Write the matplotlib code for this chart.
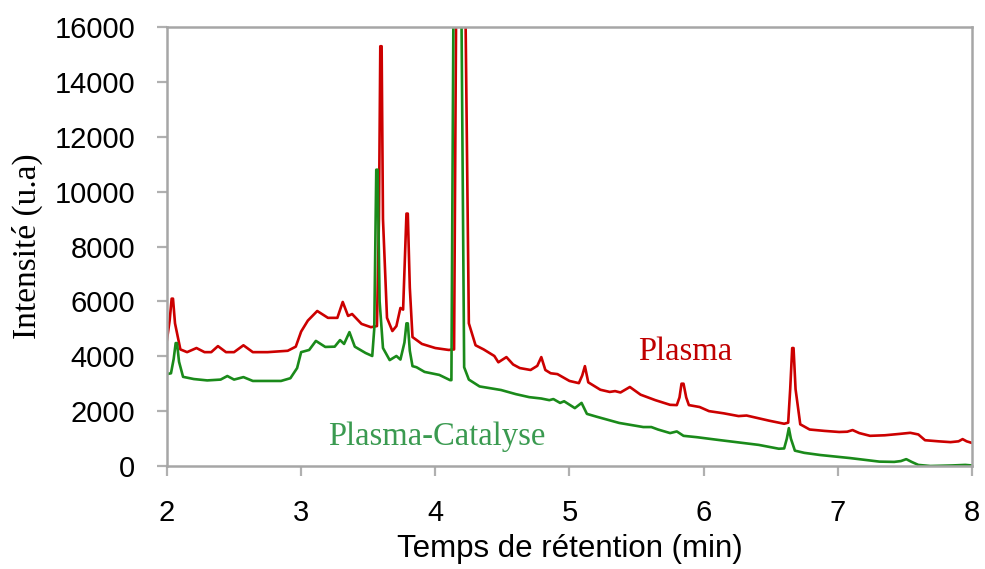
import matplotlib.pyplot as plt
import numpy as np

# Plasma (red) trace: retention time (min), intensity (u.a)
t_plasma = [2.00, 2.02, 2.035, 2.045, 2.06, 2.10, 2.15, 2.22, 2.28, 2.33, 2.38, 2.44, 2.50, 2.57, 2.64,
            2.75, 2.90, 2.96, 3.00, 3.05, 3.12, 3.20, 3.27, 3.31, 3.35, 3.38, 3.45, 3.52, 3.565,
            3.58, 3.59, 3.60, 3.61, 3.64, 3.68, 3.71, 3.74, 3.76, 3.785, 3.795, 3.81, 3.83, 3.90, 4.00, 4.10,
            4.14, 4.155, 4.19, 4.225, 4.25, 4.30, 4.36, 4.41, 4.44, 4.47, 4.53, 4.58, 4.63, 4.71,
            4.76, 4.79, 4.82, 4.86, 4.91, 5.00, 5.07, 5.095, 5.115, 5.14, 5.23, 5.30, 5.34, 5.38,
            5.45, 5.53, 5.64, 5.75, 5.80, 5.82, 5.835, 5.85, 5.87, 5.89, 5.97, 6.04, 6.15, 6.26, 6.32,
            6.49, 6.60, 6.63, 6.645, 6.66, 6.67, 6.685, 6.72, 6.79, 6.90, 7.01, 7.07, 7.11, 7.16, 7.24,
            7.35, 7.46, 7.54, 7.60, 7.65, 7.75, 7.84, 7.90, 7.93, 7.96, 8.00]
i_plasma = [4600, 5300, 6100, 6100, 5200, 4250, 4150, 4300, 4150, 4150, 4370, 4150, 4150, 4400, 4150,
            4150, 4200, 4350, 4900, 5300, 5650, 5400, 5400, 5980, 5470, 5540, 5180, 5060, 5100,
            9000, 15300, 15300, 9000, 5400, 4920, 5100, 5760, 5700, 9200, 9200, 6500, 4700, 4450, 4300, 4230,
            4250, 16500, 30000, 16500, 5200, 4400, 4250, 4100, 4010, 3780, 3970, 3700, 3570, 3500,
            3650, 3970, 3500, 3380, 3350, 3100, 3020, 3300, 3640, 3050, 2780, 2700, 2730, 2680,
            2880, 2600, 2400, 2230, 2220, 2500, 3000, 3000, 2500, 2220, 2150, 2000, 1920, 1820, 1840,
            1650, 1540, 1580, 2800, 4300, 4300, 2800, 1520, 1330, 1280, 1240, 1250, 1310, 1200, 1100,
            1120, 1170, 1210, 1150, 940, 900, 870, 900, 980, 900, 840]

# Plasma-Catalyse (green) trace
t_catal = [2.00, 2.03, 2.05, 2.065, 2.075, 2.09, 2.12, 2.20, 2.30, 2.40, 2.45, 2.50, 2.57, 2.64, 2.75,
           2.85, 2.92, 2.97, 3.00, 3.06, 3.11, 3.18, 3.25, 3.29, 3.32, 3.36, 3.40, 3.48, 3.53,
           3.545, 3.56, 3.57, 3.585, 3.61, 3.66, 3.71, 3.74, 3.77, 3.785, 3.795, 3.81, 3.83, 3.86, 3.92, 4.03,
           4.11, 4.12, 4.135, 4.165, 4.195, 4.215, 4.25, 4.33, 4.49, 4.60, 4.70, 4.79, 4.85, 4.88,
           4.93, 4.96, 5.04, 5.09, 5.13, 5.20, 5.37, 5.55, 5.61, 5.66, 5.75, 5.80, 5.85, 5.95,
           6.11, 6.41, 6.56, 6.60, 6.62, 6.635, 6.65, 6.68, 6.75, 6.87, 7.09, 7.31, 7.42, 7.47,
           7.51, 7.55, 7.60, 7.69, 7.85, 7.95, 8.00]
i_catal = [3350, 3380, 3900, 4480, 4480, 3800, 3250, 3170, 3120, 3150, 3280, 3150, 3240, 3100, 3100,
           3100, 3200, 3570, 4150, 4230, 4560, 4340, 4350, 4590, 4450, 4880, 4350, 4120, 4010,
           5000, 10800, 10800, 6000, 4300, 3860, 4010, 3880, 4500, 5200, 5200, 4200, 3640, 3600, 3430, 3320,
           3130, 3130, 16500, 30000, 16500, 3600, 3150, 2900, 2770, 2620, 2510, 2460, 2400, 2440,
           2300, 2360, 2110, 2300, 1900, 1800, 1570, 1420, 1420, 1330, 1200, 1260, 1100, 1050,
           950, 770, 630, 640, 1000, 1380, 1000, 560, 480, 400, 290, 160, 150, 180,
           250, 150, 40, 0, 20, 40, 20]

x_ticks = [2, 3, 4, 5, 6, 7, 8]
y_ticks = [0, 2000, 4000, 6000, 8000, 10000, 12000, 14000, 16000]

plt.rcParams['font.family'] = ['Liberation Sans', 'DejaVu Sans']

fig = plt.figure(figsize=(9.85, 5.69), dpi=100)
ax = fig.add_axes([0.1695, 0.181, 0.8173, 0.7715])

ax.plot(t_plasma, i_plasma, color='#cc0000', lw=1.9, solid_joinstyle='round')
ax.plot(t_catal, i_catal, color='#1a8a1a', lw=1.9, solid_joinstyle='round')

ax.set_xlim(2, 8)
ax.set_ylim(0, 16000)
ax.set_xticks(x_ticks)
ax.set_yticks(y_ticks)
ax.tick_params(axis='both', direction='out', length=7, width=1.6, color='#b0b0b0',
               labelsize=21)
ax.tick_params(axis='y', pad=16)
ax.tick_params(axis='x', pad=17)
for s in ax.spines.values():
    s.set_color('#a6a6a6')
    s.set_linewidth(1.8)

ax.set_xlabel('Temps de rétention (min)', fontsize=22.5, labelpad=5)
ax.set_ylabel('Intensité (u.a)', fontsize=24, family=['Liberation Serif', 'DejaVu Serif'],
              labelpad=8)

ax.text(5.86, 4150, 'Plasma', color='#c00000', fontsize=23.5,
        family=['Liberation Serif', 'DejaVu Serif'], ha='center', va='center')
ax.text(4.01, 1060, 'Plasma-Catalyse', color='#3a9a50', fontsize=23.5,
        family=['Liberation Serif', 'DejaVu Serif'], ha='center', va='center')

fig.savefig('out.png', dpi=100)
